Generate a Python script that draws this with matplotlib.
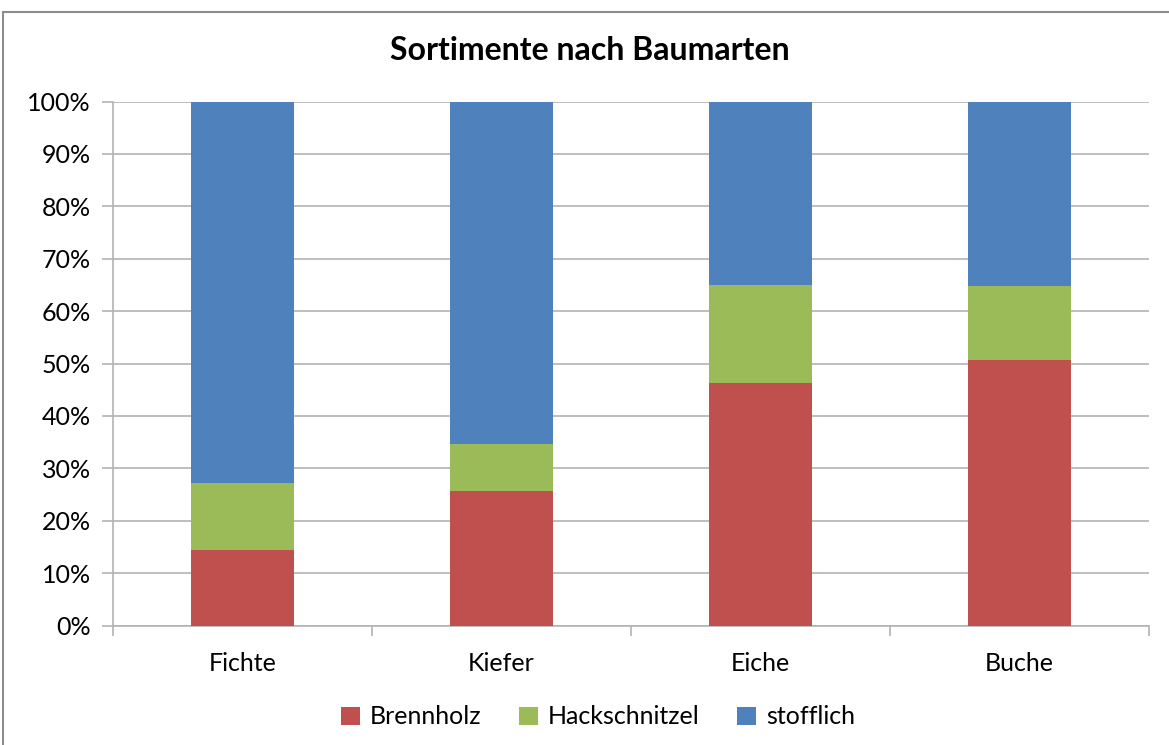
import matplotlib
matplotlib.use("Agg")
import matplotlib.pyplot as plt
from matplotlib.patches import Rectangle
from matplotlib.ticker import FixedLocator, PercentFormatter
import numpy as np

categories = ["Fichte", "Kiefer", "Eiche", "Buche"]
brennholz = [14.5, 25.7, 46.3, 50.7]
hackschnitzel = [12.6, 8.9, 18.7, 14.1]
stofflich = [72.9, 65.4, 35.0, 35.2]
series_names = ["Brennholz", "Hackschnitzel", "stofflich"]
colors = ["#C0504D", "#9BBB59", "#4F81BD"]
title = "Sortimente nach Baumarten"

plt.rcParams['font.family'] = ['Lato', 'DejaVu Sans']

W, H = 1169, 745
fig = plt.figure(figsize=(W / 100, H / 100), dpi=100)
fig.patch.set_facecolor("white")
fig.patches.append(Rectangle((3 / W, -0.01), 1.2, (745 - 12) / H + 0.01,
                             transform=fig.transFigure, fill=False,
                             edgecolor="#8c8c8c", linewidth=1.5))

ax = fig.add_axes([113 / W, (745 - 625.5) / H, (1149 - 113) / W, (625.5 - 101.5) / H])
x = np.arange(len(categories))
bottom = np.zeros(len(categories))
for name, vals, c in zip(series_names, [brennholz, hackschnitzel, stofflich], colors):
    ax.bar(x, vals, width=0.4, bottom=bottom, color=c, label=name, zorder=3)
    bottom += np.array(vals)

ax.set_xlim(-0.5, len(categories) - 0.5)
ax.set_ylim(0, 100)
ax.yaxis.set_major_locator(FixedLocator(np.arange(0, 101, 10)))
ax.yaxis.set_major_formatter(PercentFormatter(decimals=0))
ax.grid(axis="y", color="#b3b3b3", linewidth=1.2, zorder=0)
ax.set_axisbelow(True)
for s in ["top", "right"]:
    ax.spines[s].set_visible(False)
ax.spines["left"].set_color("#b3b3b3")
ax.spines["bottom"].set_color("#b3b3b3")
ax.spines["left"].set_linewidth(1.2)
ax.spines["bottom"].set_linewidth(1.2)

ax.set_xticks(x)
ax.set_xticklabels(categories)
ax.xaxis.set_minor_locator(FixedLocator(np.arange(-0.5, len(categories), 1.0)))
ax.tick_params(axis="x", which="major", length=0, pad=19, labelsize=18)
ax.tick_params(axis="x", which="minor", length=7, color="#b3b3b3", width=1.2)
ax.tick_params(axis="y", length=8, color="#b3b3b3", width=1.2, labelsize=18, pad=8)

fig.text(590 / W, 1 - 50 / H, title, ha="center", va="center",
         fontsize=23, fontweight="bold")

fig.legend(loc="center", bbox_to_anchor=(598 / W, 1 - 717 / H), ncol=3,
           frameon=False, fontsize=18, handlelength=0.75, handleheight=0.75,
           handletextpad=0.4, columnspacing=1.5)

fig.savefig("out.png", dpi=100)
